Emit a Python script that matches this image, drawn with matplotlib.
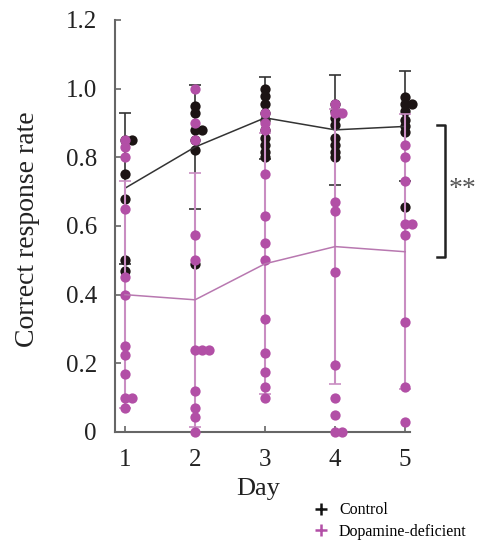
import numpy as np
import matplotlib
matplotlib.use('Agg')
import matplotlib.pyplot as plt
from matplotlib.lines import Line2D

plt.rcParams['font.family'] = ['Liberation Serif', 'DejaVu Serif']

# data
days = [1, 2, 3, 4, 5]

ctrl_mean = [0.71, 0.83, 0.915, 0.88, 0.89]
ctrl_sd = [0.22, 0.18, 0.12, 0.16, 0.16]
dd_mean = [0.40, 0.385, 0.49, 0.54, 0.525]
dd_sd = [0.33, 0.37, 0.38, 0.40, 0.40]

ctrl_points = [
    [0.85, 0.85, 0.75, 0.68, 0.50, 0.47],
    [0.95, 0.93, 0.88, 0.88, 0.85, 0.82, 0.49],
    [1.00, 0.98, 0.955, 0.93, 0.91, 0.88, 0.855, 0.835, 0.815, 0.80],
    [0.955, 0.935, 0.915, 0.895, 0.855, 0.835, 0.815, 0.80],
    [0.975, 0.955, 0.955, 0.935, 0.91, 0.89, 0.875, 0.655],
]
dd_points = [
    [0.85, 0.83, 0.80, 0.65, 0.45, 0.40, 0.25, 0.225, 0.17, 0.10, 0.10, 0.07],
    [1.00, 0.90, 0.85, 0.575, 0.50, 0.24, 0.24, 0.24, 0.12, 0.07, 0.045, 0.0],
    [0.93, 0.90, 0.88, 0.75, 0.63, 0.55, 0.50, 0.33, 0.23, 0.175, 0.13, 0.10],
    [0.955, 0.93, 0.93, 0.67, 0.645, 0.465, 0.195, 0.10, 0.05, 0.0, 0.0],
    [0.835, 0.80, 0.73, 0.605, 0.605, 0.575, 0.32, 0.13, 0.03],
]

ytick_vals = [0, 0.2, 0.4, 0.6, 0.8, 1.0, 1.2]
ytick_labels = ['0', '0.2', '0.4', '0.6', '0.8', '1.0', '1.2']

black = '#1c1414'
pink = '#b24fa6'
pink_light = '#c98dc2'


def spread(day, vals, step=0.1):
    # repeated values get nudged to the right, like a small swarm
    xs = []
    for i, v in enumerate(vals):
        k = sum(1 for u in vals[:i] if abs(u - v) < 0.005)
        xs.append(day + step * k)
    return xs


fig = plt.figure(figsize=(4.83, 5.46), dpi=100)
ax = fig.add_axes([0.238, 0.2088, 0.611, 0.7546])

# control
ax.errorbar(days, ctrl_mean, yerr=ctrl_sd, fmt='none', ecolor='#333333',
            elinewidth=1.2, capsize=4, capthick=1.2, zorder=2)
for d, vals in zip(days, ctrl_points):
    ax.plot(spread(d, vals), vals, 'o', color=black, ms=7.4, mew=0,
            zorder=3, clip_on=False)
ax.plot(days, ctrl_mean, color='#333333', lw=1.1, zorder=4)

# dopamine-deficient
ax.errorbar(days, dd_mean, yerr=dd_sd, fmt='none', ecolor=pink_light,
            elinewidth=1.5, capsize=4, capthick=1.2, zorder=5)
for d, vals in zip(days, dd_points):
    ax.plot(spread(d, vals), vals, 'o', color=pink, ms=7.4, mew=0,
            zorder=6, clip_on=False)
ax.plot(days, dd_mean, color='#b878b0', lw=1.1, zorder=7)

ax.set_xlim(0.857, 5.07)
ax.set_ylim(0, 1.2)
ax.set_xticks(days)
ax.set_yticks(ytick_vals)
ax.set_yticklabels(ytick_labels)

for s in ['top', 'right']:
    ax.spines[s].set_visible(False)
for s in ['left', 'bottom']:
    ax.spines[s].set_color('#666666')
    ax.spines[s].set_linewidth(1.5)

ax.tick_params(axis='both', direction='in', length=4, width=1.2,
               color='#666666', labelsize=18, labelcolor='#222222')
ax.tick_params(axis='x', pad=12)
ax.tick_params(axis='y', pad=13)

ax.set_xlabel('Day', fontsize=19, color='#222222')
ax.xaxis.set_label_coords(0.485, -0.112)
ax.set_ylabel('Correct response rate', fontsize=20, color='#222222')
ax.yaxis.set_label_coords(-0.254, 0.493)

# significance bracket
ax.plot([5.457, 5.571, 5.571, 5.457], [0.895, 0.895, 0.51, 0.51],
        color='#222222', lw=1.8, clip_on=False)
ax.text(5.82, 0.705, '**', fontsize=20, color='#555555',
        ha='center', va='center', clip_on=False)

handles = [Line2D([], [], ls='none', marker='+', color='#111111', ms=8.5, mew=1.8),
           Line2D([], [], ls='none', marker='+', color=pink, ms=8.5, mew=1.8)]
fig.legend(handles, ['Control', 'Dopamine-deficient'], loc='upper left',
           bbox_to_anchor=(0.649, 0.080), frameon=False, fontsize=11.5,
           handlelength=1.0, handletextpad=0.6, labelspacing=0.35,
           borderaxespad=0, borderpad=0)

fig.savefig('out.png', dpi=100)
